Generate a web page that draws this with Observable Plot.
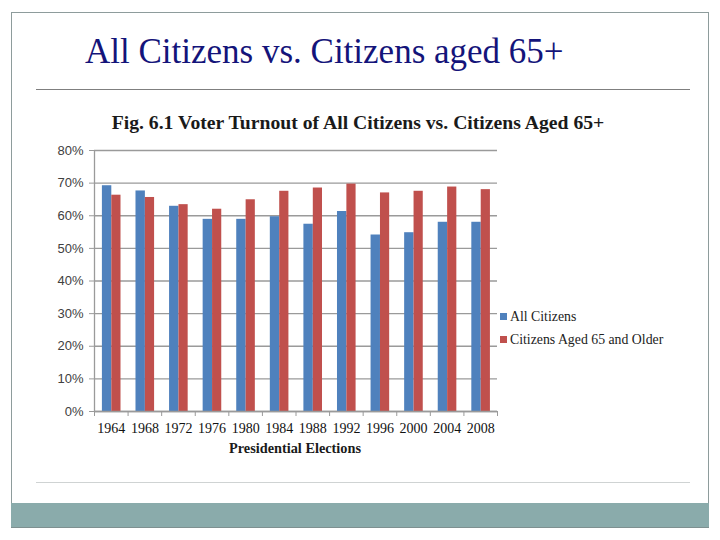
<!DOCTYPE html>
<html>
<head>
<meta charset="utf-8">
<script src="https://cdn.jsdelivr.net/npm/d3@7"></script>
<script src="https://cdn.jsdelivr.net/npm/@observablehq/plot@0.6"></script>
<style>
  html, body { margin: 0; padding: 0; background: #fff; }
  #slide { position: relative; width: 720px; height: 540px; overflow: hidden; }
  #frame { position: absolute; left: 11px; top: 12px; width: 696px; height: 514px; border: 1px solid #8e9c9c; box-sizing: content-box; }
  #band { position: absolute; left: 11px; top: 503px; width: 698px; height: 24px; background: #8aabab; border-bottom: 1px solid #7e9090; }
  #title { position: absolute; left: 85px; top: 32px; line-height: normal; font-family: "Liberation Serif", "Times New Roman", serif; font-size: 35px; color: #14147a; white-space: nowrap; }
  #rule-top { position: absolute; left: 36px; top: 89px; width: 654px; height: 0; border-top: 1.5px solid #7f7f7f; }
  #rule-bottom { position: absolute; left: 36px; top: 482px; width: 654px; height: 0; border-top: 1.5px solid #cfd3d3; }
  #chart-title { position: absolute; left: 0; width: 716px; text-align: center; top: 111px; font-family: "Liberation Serif", serif; font-weight: bold; font-size: 19.7px; color: #1a1a1a; white-space: nowrap; }
  #chart { position: absolute; left: 0; top: 140px; }
  #x-title { position: absolute; left: 195px; width: 200px; text-align: center; top: 440px; font-family: "Liberation Serif", serif; font-weight: bold; font-size: 14.3px; color: #1a1a1a; }
  #legend { position: absolute; left: 500px; top: 309px; font-family: "Liberation Serif", serif; font-size: 13.8px; color: #222; }
  #legend div { height: 23px; line-height: 16px; white-space: nowrap; }
  #legend span.sw { display: inline-block; width: 7px; height: 7px; margin-right: 3px; vertical-align: 1px; }
</style>
</head>
<body>
<div id="slide">
  <div id="frame"></div>
  <div id="title">All Citizens vs. Citizens aged 65+</div>
  <div id="rule-top"></div>
  <div id="chart-title">Fig. 6.1 Voter Turnout of All Citizens vs. Citizens Aged 65+</div>
  <div id="chart"></div>
  <div id="x-title">Presidential Elections</div>
  <div id="legend"></div>
  <div id="rule-bottom"></div>
  <div id="band"></div>
</div>
<script>
// Presidential election years
const years = ["1964", "1968", "1972", "1976", "1980", "1984", "1988", "1992", "1996", "2000", "2004", "2008"];
// Turnout, share of citizens voting
const allCitizens = [0.692, 0.676, 0.629, 0.589, 0.589, 0.597, 0.574, 0.613, 0.541, 0.548, 0.580, 0.580];
const aged65 = [0.663, 0.656, 0.634, 0.620, 0.649, 0.675, 0.685, 0.697, 0.670, 0.675, 0.688, 0.680];
const seriesNames = ["All Citizens", "Citizens Aged 65 and Older"];
const seriesColors = ["#4f81bd", "#c0504d"];
const yTicks = [0, 0.1, 0.2, 0.3, 0.4, 0.5, 0.6, 0.7, 0.8];

const rows = years.map((year, i) => ({year, all: allCitizens[i], old: aged65[i]}));

const W = 720, H = 320;
const mL = 94, mR = 223;
const step = (W - mL - mR) / years.length;
const grey = "#9a9a9a";
const noLabel = () => "";

const chart = Plot.plot({
  width: W,
  height: H,
  marginLeft: mL,
  marginRight: mR,
  marginTop: 10,
  marginBottom: 49,
  style: {background: "transparent", overflow: "visible"},
  x: {type: "band", domain: years, paddingInner: 0, paddingOuter: 0, round: false},
  y: {domain: [0, 0.8]},
  marks: [
    Plot.gridY(yTicks, {stroke: grey, strokeOpacity: 1, strokeWidth: 1.3}),
    Plot.barY(rows, {x: "year", y: "all", fill: seriesColors[0], insetLeft: 7.9, insetRight: step - 17.3}),
    Plot.barY(rows, {x: "year", y: "old", fill: seriesColors[1], insetLeft: 17.3, insetRight: step - 26.5}),
    Plot.ruleY([0], {stroke: grey, strokeWidth: 1.3}),
    Plot.ruleX([years[0]], {dx: -step / 2, y1: 0, y2: 0.8, stroke: grey, strokeWidth: 1.3}),
    Plot.axisY({ticks: yTicks, tickFormat: d3.format(".0%"), tickSize: 5, tickPadding: 6, stroke: grey, fill: "#404040",
      fontSize: 13, fontFamily: "Liberation Sans, sans-serif", label: null}),
    // category boundary ticks below the baseline
    Plot.axisX({ticks: years, tickSize: 5, dx: -step / 2, stroke: grey, tickFormat: noLabel, label: null}),
    Plot.axisX({ticks: [years[years.length - 1]], tickSize: 5, dx: step / 2, stroke: grey, tickFormat: noLabel, label: null}),
    Plot.axisX({tickSize: 0, tickPadding: 12, fontSize: 14, fontFamily: "Liberation Serif, serif", fill: "#111", label: null})
  ]
});
document.getElementById("chart").appendChild(chart);

const legend = document.getElementById("legend");
seriesNames.forEach((name, i) => {
  const row = document.createElement("div");
  const sw = document.createElement("span");
  sw.className = "sw";
  sw.style.background = seriesColors[i];
  row.appendChild(sw);
  row.appendChild(document.createTextNode(name));
  legend.appendChild(row);
});
</script>
</body>
</html>
